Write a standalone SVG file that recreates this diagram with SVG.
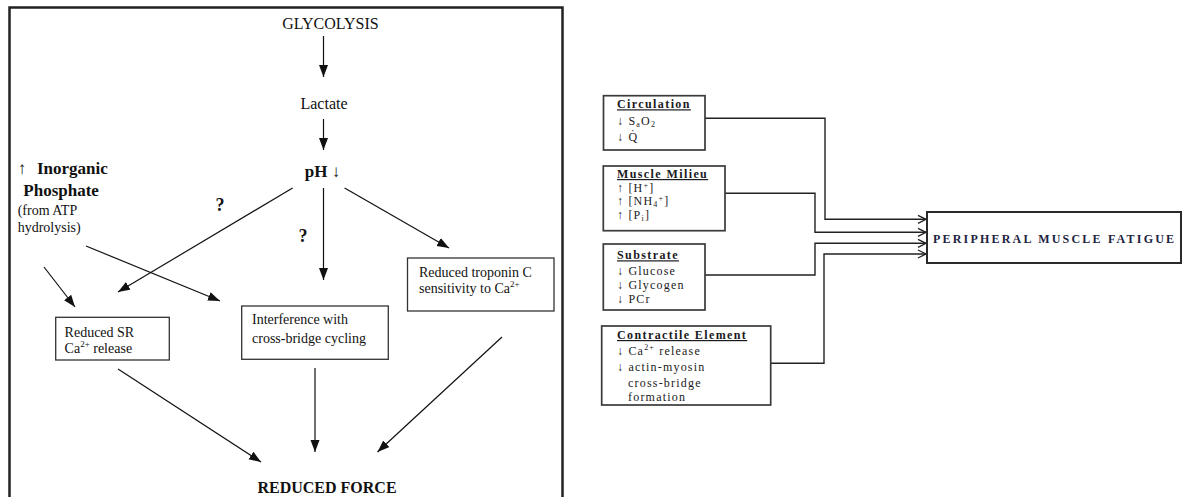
<svg xmlns="http://www.w3.org/2000/svg" width="1182" height="497" viewBox="0 0 1182 497">
<style>
.t{font-family:"Liberation Serif","Times New Roman",serif;fill:#111}
.b{font-weight:bold}
.box{fill:#fff;stroke:#333;stroke-width:1.3}
.rbox{fill:#fff;stroke:#3a3a3a;stroke-width:1.7}
.ln{stroke:#111;stroke-width:1.2;fill:none}
.rl{stroke:#222;stroke-width:1.4;fill:none}
.rt{font-family:"Liberation Serif","Times New Roman",serif;fill:#1a1a22;font-size:12px;letter-spacing:1.2px}
.hd{font-weight:bold;text-decoration:underline;letter-spacing:1.4px}
</style>
<defs>
<marker id="ah" markerUnits="userSpaceOnUse" markerWidth="13" markerHeight="10" refX="12" refY="4.5" orient="auto">
<path d="M0,0 L12,4.5 L0,9 z" fill="#111"/>
</marker>
<marker id="ch" markerUnits="userSpaceOnUse" markerWidth="11" markerHeight="11" refX="9" refY="5" orient="auto">
<path d="M1,1 L9,5 L1,9" fill="none" stroke="#222" stroke-width="1.3"/>
</marker>
</defs>
<rect x="9.5" y="7.5" width="553" height="496" fill="none" stroke="#222" stroke-width="2.5"/>
<g id="connectors">
<line class="ln" x1="323.5" y1="36" x2="323.5" y2="77" marker-end="url(#ah)"/>
<line class="ln" x1="323.5" y1="119" x2="323.5" y2="150" marker-end="url(#ah)"/>
<line class="ln" x1="292.6" y1="188" x2="118" y2="292" marker-end="url(#ah)"/>
<line class="ln" x1="323.5" y1="188" x2="323.5" y2="280" marker-end="url(#ah)"/>
<line class="ln" x1="344.6" y1="188" x2="449" y2="248" marker-end="url(#ah)"/>
<line class="ln" x1="44" y1="267" x2="75" y2="307" marker-end="url(#ah)"/>
<line class="ln" x1="86" y1="246" x2="220" y2="301" marker-end="url(#ah)"/>
<line class="ln" x1="118" y1="369" x2="261" y2="462" marker-end="url(#ah)"/>
<line class="ln" x1="315" y1="368" x2="315" y2="452" marker-end="url(#ah)"/>
<line class="ln" x1="502" y1="337" x2="377.5" y2="452" marker-end="url(#ah)"/>
<polyline class="rl" points="705,118.3 825,118.3 825,219.3 926,219.3" marker-end="url(#ch)"/>
<polyline class="rl" points="725,193.3 815,193.3 815,232.3 926,232.3" marker-end="url(#ch)"/>
<polyline class="rl" points="705,275 815,275 815,243.3 926,243.3" marker-end="url(#ch)"/>
<polyline class="rl" points="771,363.3 824,363.3 824,254 926,254" marker-end="url(#ch)"/>
</g>
<g id="glycolysis"><text class="t" x="330.5" y="29" font-size="16" text-anchor="middle">GLYCOLYSIS</text></g>
<g id="lactate"><text class="t" x="324" y="109" font-size="16" text-anchor="middle">Lactate</text></g>
<g id="ph"><text class="t b" x="322.5" y="177" font-size="17" text-anchor="middle">pH ↓</text></g>
<g id="inorganic-phosphate">
<text class="t b" x="17.7" y="174" font-size="17">↑</text>
<text class="t b" x="37" y="174" font-size="17">Inorganic</text>
<text class="t b" x="23.3" y="196" font-size="17">Phosphate</text>
<text class="t" x="17.7" y="215" font-size="14">(from ATP</text>
<text class="t" x="17.7" y="232" font-size="14">hydrolysis)</text>
</g>
<g id="q1"><text class="t b" x="220" y="211" font-size="18" text-anchor="middle">?</text></g>
<g id="q2"><text class="t b" x="303" y="242" font-size="18" text-anchor="middle">?</text></g>
<g id="reduced-sr">
<rect class="box" x="55.7" y="317.3" width="113.6" height="42.7"/>
<text class="t" x="64.6" y="336.7" font-size="14">Reduced SR</text>
<text class="t" x="64.6" y="352.7" font-size="14">Ca<tspan font-size="9" dy="-6">2+</tspan><tspan dy="6"> release</tspan></text>
</g>
<g id="interference">
<rect class="box" x="241.7" y="306" width="146.6" height="53.3"/>
<text class="t" x="252" y="324.3" font-size="14">Interference with</text>
<text class="t" x="252" y="342.7" font-size="14">cross-bridge cycling</text>
</g>
<g id="troponin">
<rect class="box" x="407.5" y="258" width="146.5" height="53"/>
<text class="t" x="419" y="276.7" font-size="14">Reduced troponin C</text>
<text class="t" x="419" y="293.3" font-size="14">sensitivity to Ca<tspan font-size="9" dy="-6">2+</tspan></text>
</g>
<g id="reduced-force"><text class="t b" x="327" y="493" font-size="16" text-anchor="middle">REDUCED FORCE</text></g>
<g id="circulation">
<rect class="rbox" x="603.5" y="95.7" width="101.5" height="54.3"/>
<text class="rt hd" x="617" y="108.3">Circulation</text>
<text class="rt" x="617" y="125">↓ S<tspan font-size="8" dy="2">a</tspan><tspan dy="-2">O</tspan><tspan font-size="8" dy="2">2</tspan></text>
<text class="rt" x="617" y="140.7">↓ Q̇</text>
</g>
<g id="muscle-milieu">
<rect class="rbox" x="603.3" y="166" width="121.7" height="64.7"/>
<text class="rt hd" x="617" y="178">Muscle Milieu</text>
<text class="rt" x="617" y="191.5">↑ [H<tspan font-size="8" dy="-4">+</tspan><tspan dy="4">]</tspan></text>
<text class="rt" x="617" y="205">↑ [NH<tspan font-size="8" dy="2">4</tspan><tspan font-size="8" dy="-6">+</tspan><tspan dy="4">]</tspan></text>
<text class="rt" x="617" y="219">↑ [P<tspan font-size="8" dy="2">i</tspan><tspan dy="-2">]</tspan></text>
</g>
<g id="substrate">
<rect class="rbox" x="603.3" y="244" width="101.7" height="66"/>
<text class="rt hd" x="617" y="259.3">Substrate</text>
<text class="rt" x="617" y="275">↓ Glucose</text>
<text class="rt" x="617" y="289">↓ Glycogen</text>
<text class="rt" x="617" y="303">↓ PCr</text>
</g>
<g id="contractile-element">
<rect class="rbox" x="601.7" y="326" width="169" height="79"/>
<text class="rt hd" x="617" y="339">Contractile Element</text>
<text class="rt" x="617" y="354.5">↓ Ca<tspan font-size="8" dy="-5">2+</tspan><tspan dy="5"> release</tspan></text>
<text class="rt" x="617" y="370.5">↓ actin-myosin</text>
<text class="rt" x="628" y="386.5">cross-bridge</text>
<text class="rt" x="628" y="400.5">formation</text>
</g>
<g id="peripheral-muscle-fatigue">
<rect x="927" y="212" width="254" height="51" fill="#fff" stroke="#2a2a2a" stroke-width="2"/>
<text x="933" y="243" font-family="'Liberation Serif','Times New Roman',serif" font-weight="bold" font-size="12" letter-spacing="2.2" fill="#1c2340">PERIPHERAL MUSCLE FATIGUE</text>
</g>
</svg>
